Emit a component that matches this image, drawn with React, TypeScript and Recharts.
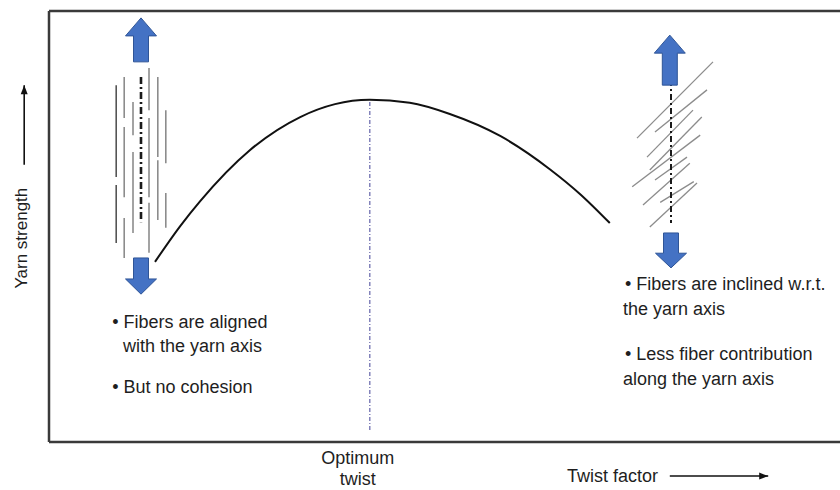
import React from "react"
import {
  LineChart,
  Line,
  XAxis,
  YAxis,
  ReferenceLine,
  ReferenceDot,
} from "recharts"

// twist factor (0-100) vs yarn strength (0-100)
const twist = [13.25, 16.4, 18.9, 25.1, 31.4, 35.75, 40.1, 45.1, 50.1, 56.4, 62.6, 66.4, 70.1]
const strength = [41.8, 50.1, 55.9, 67.7, 75.4, 78.4, 79.4, 78.7, 76.1, 71.0, 63.3, 57.5, 50.8]

const optimum = { x: 40.1, top: 79.4, bottom: 2.8 }

// straight fibers, left sketch: [x, y1, y2]
const straightFibers: [number, number, number][] = [
  [8.4, 82.8, 61.5], [8.4, 59.6, 46.2],
  [9.4, 84.7, 75.2], [9.4, 73.1, 56.8], [9.4, 52.0, 42.7],
  [10.5, 78.9, 71.2], [10.5, 67.3, 48.5],
  [12.5, 86.8, 77.0], [12.5, 75.2, 56.8], [12.5, 55.5, 43.9],
  [13.6, 84.7, 66.1], [13.6, 65.4, 51.5],
  [14.6, 77.0, 64.7], [14.6, 57.8, 49.7],
]
const leftAxis = { x: 11.5, top: 84.7, bottom: 51.0 }

// inclined fibers, right sketch: [x1, y1, x2, y2]
const inclinedFibers: [number, number, number, number][] = [
  [73.5, 70.5, 83.0, 88.2],
  [75.75, 71.9, 82.25, 81.7],
  [74.75, 66.1, 80.5, 77.0],
  [75.1, 63.1, 81.6, 75.4],
  [72.9, 59.2, 81.4, 71.2],
  [75.75, 60.8, 79.75, 66.1],
  [74.25, 55.0, 80.1, 64.7],
  [75.1, 49.9, 81.0, 60.1],
  [76.4, 55.6, 80.6, 60.4],
]
const rightAxis = { x: 77.75, top: 84.0, bottom: 50.8 }

// pull arrows: tail -> tip
const pullArrows = [
  { from: [11.5, 88.2], to: [11.5, 98.4] },
  { from: [11.5, 42.7], to: [11.5, 34.3] },
  { from: [77.6, 82.8], to: [77.6, 94.4] },
  { from: [77.75, 48.5], to: [77.75, 40.4] },
]

const notes = [
  { x: 7.9, y: 26.5, text: "• Fibers are aligned" },
  { x: 9.25, y: 20.9, text: "with the yarn axis" },
  { x: 7.9, y: 11.4, text: "• But no cohesion" },
  { x: 72.0, y: 35.3, text: "• Fibers are inclined w.r.t." },
  { x: 71.75, y: 29.5, text: "the yarn axis" },
  { x: 72.0, y: 19.0, text: "• Less fiber contribution" },
  { x: 71.75, y: 13.2, text: "along the yarn axis" },
]

const optimumLabel = [
  { x: 38.6, y: -5.1, text: "Optimum" },
  { x: 38.6, y: -9.9, text: "twist" },
]
const xLabel = { x: 64.75, y: -9.3, text: "Twist factor", arrow: [77.6, 89.9, -7.9] }
const yLabel = { x: -3.4, y: 47.3, text: "Yarn strength", arrow: [-3.1, 64.3, 82.8] }

const data = twist.map((t, i) => ({ twist: t, strength: strength[i] }))

const FONT = "'Liberation Sans', Arial, sans-serif"
const BLUE = "#4472c4"

function BlockArrow(props: any) {
  const { x1, y1, x2, y2 } = props
  const dir = y2 < y1 ? -1 : 1
  const len = Math.abs(y2 - y1)
  const head = Math.min(18, len * 0.42)
  const hw = 15.5
  const sw = 7.5
  const x = x2
  const hy = y2 - dir * head
  const ty = y2 - dir * len
  const pts = [
    [x, y2], [x + hw, hy], [x + sw, hy], [x + sw, ty],
    [x - sw, ty], [x - sw, hy], [x - hw, hy],
  ].map((p) => p.join(",")).join(" ")
  return <polygon points={pts} fill={BLUE} stroke="#2f5597" strokeWidth={1} />
}

function ThinArrow(props: any) {
  const { x1, y1, x2, y2 } = props
  const vertical = Math.abs(x2 - x1) < Math.abs(y2 - y1)
  const head = vertical
    ? `${x2},${y2} ${x2 - 3.5},${y2 + 9} ${x2 + 3.5},${y2 + 9}`
    : `${x2},${y2} ${x2 - 9},${y2 - 3.5} ${x2 - 9},${y2 + 3.5}`
  return (
    <g>
      <line x1={x1} y1={y1} x2={x2} y2={y2} stroke="#111" strokeWidth={1.6} />
      <polygon points={head} fill="#111" />
    </g>
  )
}

function textShape(text: string, anchor: "start" | "middle" = "start") {
  return (p: any) => (
    <text x={p.cx} y={p.cy} textAnchor={anchor} fontFamily={FONT} fontSize={18} fill="#1e1e1e">
      {text}
    </text>
  )
}

function rotatedShape(text: string) {
  return (p: any) => (
    <text
      x={p.cx}
      y={p.cy}
      transform={`rotate(-90 ${p.cx} ${p.cy})`}
      textAnchor="middle"
      dominantBaseline="central"
      fontFamily={FONT}
      fontSize={17}
      fill="#1e1e1e"
    >
      {text}
    </text>
  )
}

export default function App() {
  return (
    <div
      style={{
        position: "absolute",
        left: 0,
        top: 0,
        width: 840,
        height: 490,
        overflow: "hidden",
        background: "#fff",
      }}
    >
      <LineChart
        width={860}
        height={490}
        data={data}
        margin={{ top: 11, right: 11, bottom: 48, left: 49 }}
      >
        <XAxis dataKey="twist" type="number" domain={[0, 100]} hide />
        <YAxis type="number" domain={[0, 100]} hide />

        {/* frame */}
        <ReferenceLine y={100} stroke="#3a3a3a" strokeWidth={2.5} ifOverflow="visible" />
        <ReferenceLine y={0} stroke="#3a3a3a" strokeWidth={2.5} ifOverflow="visible" />
        <ReferenceLine x={0} stroke="#3a3a3a" strokeWidth={2.5} ifOverflow="visible" />

        <ReferenceLine
          segment={[{ x: optimum.x, y: optimum.bottom }, { x: optimum.x, y: optimum.top }]}
          stroke="#6f6fb0"
          strokeWidth={1.3}
          strokeDasharray="4 2 1 2"
          ifOverflow="visible"
        />

        {straightFibers.map(([x, a, b], i) => (
          <ReferenceLine
            key={`s${i}`}
            segment={[{ x, y: a }, { x, y: b }]}
            stroke={i < 2 ? "#555" : "#8c8c8c"}
            strokeWidth={1.6}
            ifOverflow="visible"
          />
        ))}
        <ReferenceLine
          segment={[{ x: leftAxis.x, y: leftAxis.top }, { x: leftAxis.x, y: leftAxis.bottom }]}
          stroke="#1a1a1a"
          strokeWidth={2.6}
          strokeDasharray="7 3 2 3"
          ifOverflow="visible"
        />

        {inclinedFibers.map(([xa, ya, xb, yb], i) => (
          <ReferenceLine
            key={`f${i}`}
            segment={[{ x: xa, y: ya }, { x: xb, y: yb }]}
            stroke="#8c8c8c"
            strokeWidth={1.3}
            ifOverflow="visible"
          />
        ))}
        <ReferenceLine
          segment={[{ x: rightAxis.x, y: rightAxis.top }, { x: rightAxis.x, y: rightAxis.bottom }]}
          stroke="#1a1a1a"
          strokeWidth={2}
          strokeDasharray="6 3 2 3"
          ifOverflow="visible"
        />

        {pullArrows.map((a, i) => (
          <ReferenceLine
            key={`a${i}`}
            segment={[{ x: a.from[0], y: a.from[1] }, { x: a.to[0], y: a.to[1] }]}
            shape={BlockArrow}
            ifOverflow="visible"
          />
        ))}

        <Line
          type="monotone"
          dataKey="strength"
          stroke="#111"
          strokeWidth={2}
          dot={false}
          activeDot={false}
          isAnimationActive={false}
        />

        {notes.map((n, i) => (
          <ReferenceDot key={`n${i}`} x={n.x} y={n.y} ifOverflow="visible" shape={textShape(n.text)} />
        ))}
        {optimumLabel.map((n, i) => (
          <ReferenceDot
            key={`o${i}`}
            x={n.x}
            y={n.y}
            ifOverflow="visible"
            shape={textShape(n.text, "middle")}
          />
        ))}
        <ReferenceDot x={xLabel.x} y={xLabel.y} ifOverflow="visible" shape={textShape(xLabel.text)} />
        <ReferenceLine
          segment={[
            { x: xLabel.arrow[0], y: xLabel.arrow[2] },
            { x: xLabel.arrow[1], y: xLabel.arrow[2] },
          ]}
          shape={ThinArrow}
          ifOverflow="visible"
        />
        <ReferenceDot x={yLabel.x} y={yLabel.y} ifOverflow="visible" shape={rotatedShape(yLabel.text)} />
        <ReferenceLine
          segment={[
            { x: yLabel.arrow[0], y: yLabel.arrow[1] },
            { x: yLabel.arrow[0], y: yLabel.arrow[2] },
          ]}
          shape={ThinArrow}
          ifOverflow="visible"
        />
      </LineChart>
    </div>
  )
}
